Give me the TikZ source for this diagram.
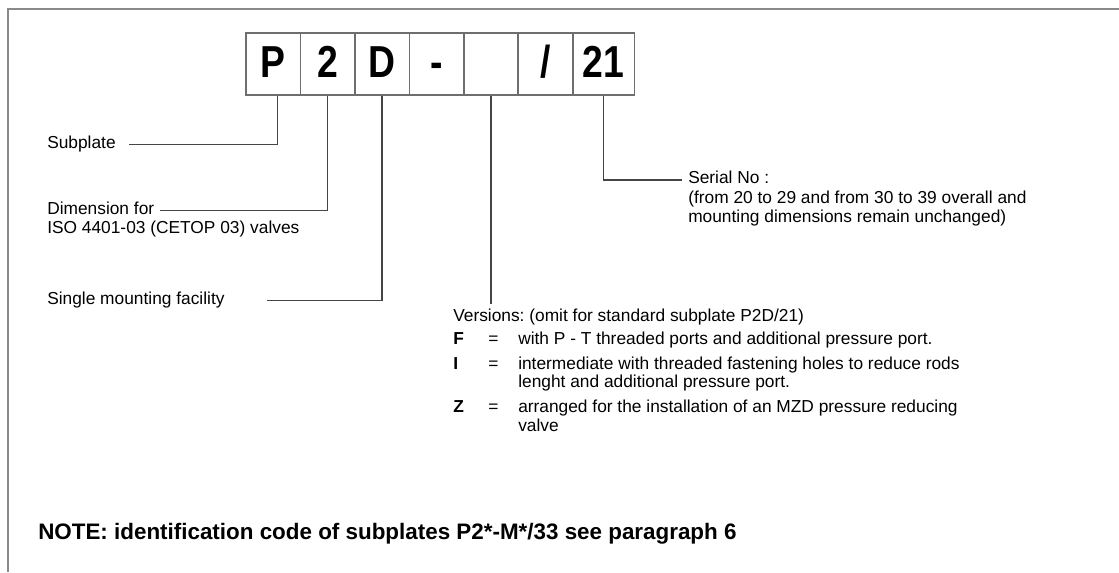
\documentclass[tikz,border=0pt]{standalone}
\usepackage{fontspec}
\setmainfont{Liberation Sans}
\usepackage{graphicx}
\usetikzlibrary{positioning}
\definecolor{linegray}{HTML}{454545}
\definecolor{boxgray}{HTML}{6E6E6E}
\definecolor{framegray}{HTML}{8A8A8A}
\newcommand{\bodyfont}{\fontsize{13}{13.9}\selectfont\frenchspacing}
\newcommand{\cellfont}{\fontsize{28}{30}\selectfont\bfseries}
\newcommand{\cellchar}[1]{\scalebox{1}[1.2]{#1}}

\begin{document}
\begin{tikzpicture}[x=0.75pt,y=-0.75pt,
  cell/.style={draw=boxgray,line width=1.1pt,minimum width=41pt,minimum height=46.5pt,inner sep=0pt,
    text height=24pt,text depth=4pt,font=\cellfont},
  txt/.style={anchor=base west,inner sep=0pt,text height=.75em,text depth=.25em,font=\bodyfont},
  lead/.style={draw=linegray,line width=1.1pt}]
\useasboundingbox (0,0) rectangle (1119,572);
\draw[framegray,line width=1.5pt] (8,572) -- (8,9) -- (1119,9);
% code boxes
\node[cell] (bP) at (273.3,64) {\cellchar{P}};
\node[cell] (b2) at (327.7,64) {\cellchar{2}};
\node[cell] (bD) at (382,64) {\cellchar{D}};
\node[cell] (bdash) at (436.7,64) {\cellchar{-}};
\node[cell] (bver) at (491.2,64) {};
\node[cell] (bslash) at (545.5,64) {\cellchar{/}};
\node[cell,minimum width=46.2pt] (b21) at (603.5,64) {\cellchar{21}};
% labels
\node[txt] (subplate) at (47,148) {Subplate};
\node[txt] (dimfor) at (47,214) {Dimension for};
\node[txt] (dimiso) at (47,233.5) {ISO 4401-03 (CETOP 03) valves};
\node[txt] (single) at (47,304) {Single mounting facility};
\node[txt] (serialhd) at (688,183.5) {Serial No :};
\node[txt] (serial1) at (688,203) {(from 20 to 29 and from 30 to 39 overall and};
\node[txt] (serial2) at (688,222.5) {mounting dimensions remain unchanged)};
\node[txt] (versions) at (453,321) {Versions: (omit for standard subplate P2D/21)};
\node[anchor=base west,inner sep=0pt,font=\bodyfont] (verlist) at (453,344) {%
  \begin{tabular}[t]{@{}p{26.25pt}@{}p{22.5pt}@{}l@{}}
  \textbf{F} & = & with P - T threaded ports and additional pressure port.\\[4.9pt]
  \textbf{I} & = & intermediate with threaded fastening holes to reduce rods\\
   & & lenght and additional pressure port.\\[4.9pt]
  \textbf{Z} & = & arranged for the installation of an MZD pressure reducing\\
   & & valve
  \end{tabular}};
\node[anchor=base west,inner sep=0pt,font={\fontsize{16.8}{18}\selectfont\bfseries}] (note) at (38,539) {NOTE: identification code of subplates P2*-M*/33 see paragraph 6};
% leaders
\draw[lead] ([xshift=3pt]bP.south) |- ([xshift=10pt]subplate.east);
\draw[lead] (b2.south) |- ([xshift=4.5pt]dimfor.east);
\draw[lead] (bD.south) |- ([xshift=32pt]single.east);
\draw[lead] (b21.south) |- ([xshift=-4.5pt]serialhd.west);
\draw[lead] (bver.south) -- ([yshift=5pt]bver.south |- versions.north);
\end{tikzpicture}
\end{document}
